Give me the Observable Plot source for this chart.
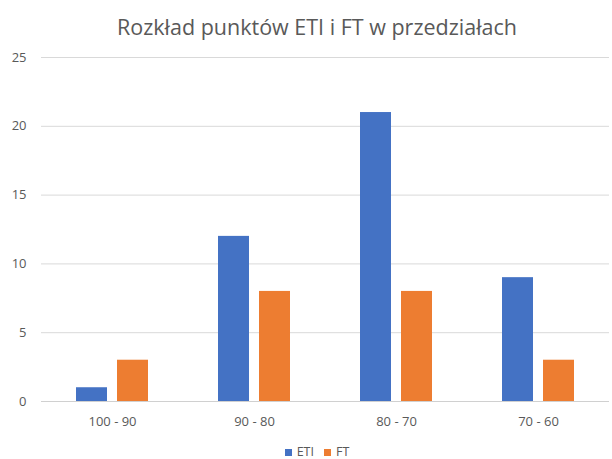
<!DOCTYPE html>
<html><head><meta charset="utf-8">
<script src="https://cdn.jsdelivr.net/npm/d3@7"></script>
<script src="https://cdn.jsdelivr.net/npm/@observablehq/plot@0.6"></script>
<style>
body{margin:0;background:#fff;font-family:"Open Sans",sans-serif;color:#595959;}
#wrap{width:612px;height:459px;position:relative;overflow:hidden;}
#title{height:45px;line-height:54px;text-align:center;font-size:21.5px;color:#595959;padding-left:22px;}
#legend{position:absolute;left:0;top:443px;width:612px;padding-left:22px;box-sizing:border-box;text-align:center;font-size:12.5px;color:#595959;}
#legend span.sw{display:inline-block;width:7px;height:7px;margin-right:5px;vertical-align:0px;}
#legend span.it{margin:0 5px;}
</style></head><body>
<div id="wrap"><div id="title">Rozkład punktów ETI i FT w przedziałach</div><div id="chart"></div><div id="legend"></div></div>
<script>
const categories = ["100 - 90", "90 - 80", "80 - 70", "70 - 60"];
const seriesNames = ["ETI", "FT"];
const eti = [1, 12, 21, 9];
const ft = [3, 8, 8, 3];
const yTicks = [0, 5, 10, 15, 20, 25];
const colors = ["#4472C4", "#ED7D31"];

const data = [];
categories.forEach((c, i) => {
  data.push({cat: c, series: "ETI", value: eti[i]});
  data.push({cat: c, series: "FT", value: ft[i]});
});

const chart = Plot.plot({
  width: 612,
  height: 390,
  marginTop: 12,
  marginBottom: 34,
  marginLeft: 40,
  marginRight: 2,
  style: {fontFamily: "'Open Sans', sans-serif", fontSize: "13px", color: "#595959"},
  fx: {domain: categories, padding: 0, label: null},
  x: {domain: seriesNames, paddingInner: 0.238, paddingOuter: 0.815, axis: null},
  y: {domain: [0, 25], ticks: yTicks, label: null},
  color: {domain: seriesNames, range: colors},
  marks: [
    Plot.gridY(yTicks, {stroke: "#d9d9d9", strokeOpacity: 1}),
    Plot.barY(data, {fx: "cat", x: "series", y: "value", fill: "series"}),
    Plot.ruleY([0], {stroke: "#d0d0d0"}),
    Plot.axisFx({anchor: "bottom", tickSize: 0, tickPadding: 15, label: null}),
    Plot.axisY(yTicks, {tickSize: 0, tickPadding: 15, label: null})
  ]
});
document.getElementById("chart").appendChild(chart);

const lg = document.getElementById("legend");
seriesNames.forEach((s, i) => {
  const it = document.createElement("span");
  it.className = "it";
  it.innerHTML = `<span class="sw" style="background:${colors[i]}"></span>${s}`;
  lg.appendChild(it);
});
</script></body></html>
